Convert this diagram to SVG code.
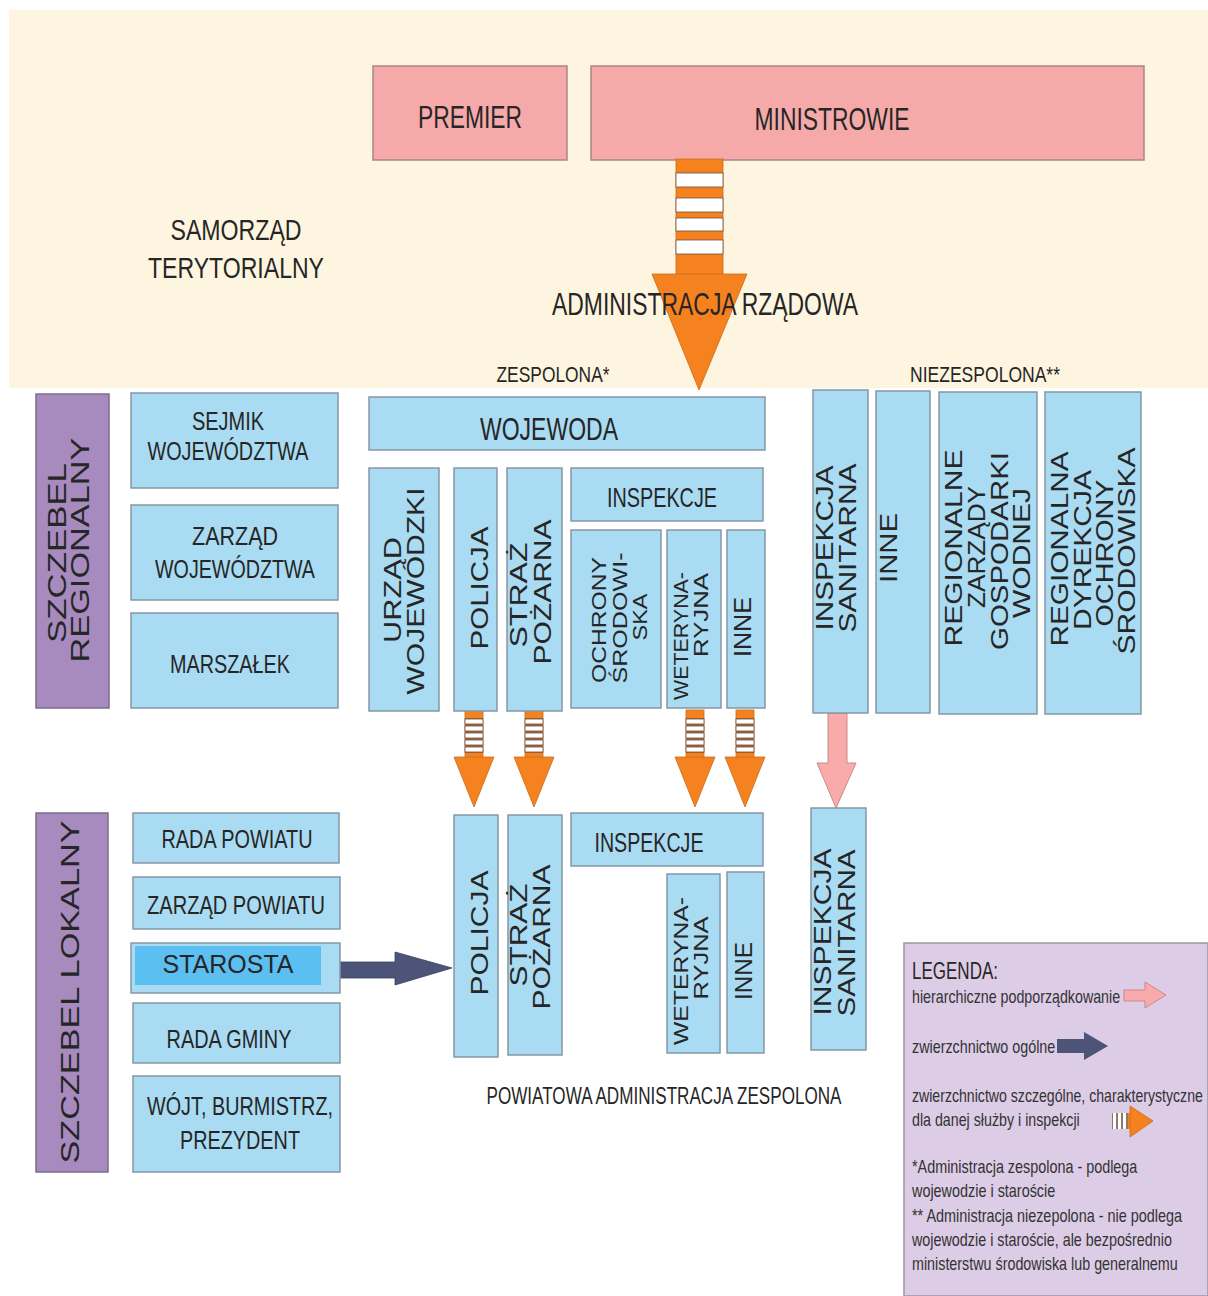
<svg xmlns="http://www.w3.org/2000/svg" width="1208" height="1296" viewBox="0 0 1208 1296">
<style>
.t{font-family:"Liberation Sans",Arial,"DejaVu Sans",sans-serif;fill:#262626}
.c{text-anchor:middle}
.pink{fill:#F6A9A9;stroke:#A98585;stroke-width:1.5}
.blue{fill:#A9DBF2;stroke:#8598A6;stroke-width:1.5}
.purple{fill:#A78BBE;stroke:#7C6C8E;stroke-width:1.5}
.r{font-size:23px}
.rs{font-size:21px}
.h{font-size:25px}
.lg{font-size:18px;fill:#333}
.orange{fill:#F5821F;stroke:#C9691B;stroke-width:0.8}
.stripe{fill:#FFFFFF;stroke:#6B5040;stroke-width:0.8}
</style>
<defs>
<g id="sa">
<rect x="-9" y="0" width="18" height="49" class="orange"/>
<rect x="-9" y="8" width="18" height="35" fill="#A8683A"/>
<rect x="-9" y="9" width="18" height="5" class="stripe"/>
<rect x="-9" y="16" width="18" height="5" class="stripe"/>
<rect x="-9" y="23" width="18" height="5" class="stripe"/>
<rect x="-9" y="30" width="18" height="5" class="stripe"/>
<rect x="-9" y="37" width="18" height="5" class="stripe"/>
<polygon points="-20,47 20,47 0,97" class="orange"/>
</g>
</defs>

<rect x="9" y="10" width="1199" height="378" fill="#FDF5DF"/>

<g id="premier"><rect x="373" y="66" width="194" height="94" class="pink"/><text class="t c" x="470" y="128" font-size="31" textLength="104" lengthAdjust="spacingAndGlyphs">PREMIER</text></g>
<g id="ministrowie"><rect x="591" y="66" width="553" height="94" class="pink"/><text class="t c" x="832" y="130" font-size="31" textLength="155" lengthAdjust="spacingAndGlyphs">MINISTROWIE</text></g>
<g id="samorzad"><text class="t c" x="236" y="240" font-size="29" textLength="131" lengthAdjust="spacingAndGlyphs">SAMORZĄD</text><text class="t c" x="236" y="278" font-size="29" textLength="176" lengthAdjust="spacingAndGlyphs">TERYTORIALNY</text></g>

<g id="connectors">
<g id="arrow-rzad">
<rect x="676" y="159" width="47" height="116" class="orange"/>
<rect x="676" y="173" width="47" height="14" class="stripe"/>
<rect x="676" y="198" width="47" height="14" class="stripe"/>
<rect x="676" y="218" width="47" height="13" class="stripe"/>
<rect x="676" y="240" width="47" height="14" class="stripe"/>
<polygon points="652,274 747,274 699,390" class="orange"/>
</g>
<use href="#sa" transform="translate(474,710)"/>
<use href="#sa" transform="translate(534,710)"/>
<use href="#sa" transform="translate(695,710)"/>
<use href="#sa" transform="translate(745,710)"/>
<polygon points="828,713 847,713 847,763 856,763 836,808 817,763 828,763" fill="#F9AAAA" stroke="#C98A8A" stroke-width="1"/>
<polygon points="338,962 395,962 395,952 452,968 395,985 395,978 338,978" fill="#4C5478" stroke="#3A4060" stroke-width="0.8"/>
</g>

<text class="t c" x="705" y="315" font-size="32" textLength="306" lengthAdjust="spacingAndGlyphs">ADMINISTRACJA RZĄDOWA</text>
<text class="t c" x="553" y="382" font-size="22" textLength="113" lengthAdjust="spacingAndGlyphs">ZESPOLONA*</text>
<text class="t c" x="985" y="382" font-size="22" textLength="150" lengthAdjust="spacingAndGlyphs">NIEZESPOLONA**</text>

<g id="szczebel-regionalny"><rect x="36" y="394" width="73" height="314" class="purple"/>
<text class="t c" font-size="25" transform="translate(66,553) rotate(-90)" textLength="180" lengthAdjust="spacingAndGlyphs">SZCZEBEL</text>
<text class="t c" font-size="25" transform="translate(89,550) rotate(-90)" textLength="225" lengthAdjust="spacingAndGlyphs">REGIONALNY</text></g>
<g id="szczebel-lokalny"><rect x="36" y="813" width="72" height="359" class="purple"/>
<text class="t c" font-size="25" transform="translate(79,992) rotate(-90)" textLength="343" lengthAdjust="spacingAndGlyphs">SZCZEBEL LOKALNY</text></g>

<g id="sejmik"><rect x="131" y="393" width="207" height="95" class="blue"/><text class="t c h" x="228" y="430" textLength="72" lengthAdjust="spacingAndGlyphs">SEJMIK</text><text class="t c h" x="228" y="460" textLength="161" lengthAdjust="spacingAndGlyphs">WOJEWÓDZTWA</text></g>
<g id="zarzad-woj"><rect x="131" y="505" width="207" height="95" class="blue"/><text class="t c h" x="235" y="545" textLength="86" lengthAdjust="spacingAndGlyphs">ZARZĄD</text><text class="t c h" x="235" y="578" textLength="160" lengthAdjust="spacingAndGlyphs">WOJEWÓDZTWA</text></g>
<g id="marszalek"><rect x="131" y="613" width="207" height="95" class="blue"/><text class="t c h" x="230" y="673" textLength="120" lengthAdjust="spacingAndGlyphs">MARSZAŁEK</text></g>

<g id="rada-powiatu"><rect x="133" y="813" width="206" height="50" class="blue"/><text class="t c h" x="237" y="848" textLength="151" lengthAdjust="spacingAndGlyphs">RADA POWIATU</text></g>
<g id="zarzad-powiatu"><rect x="133" y="877" width="207" height="52" class="blue"/><text class="t c h" x="236" y="914" textLength="178" lengthAdjust="spacingAndGlyphs">ZARZĄD POWIATU</text></g>
<g id="starosta"><rect x="131" y="943" width="209" height="50" class="blue"/><rect x="135" y="946" width="186" height="39" fill="#5CBFF2"/><text class="t c" x="228" y="973" font-size="25" fill="#111">STAROSTA</text></g>
<g id="rada-gminy"><rect x="133" y="1003" width="207" height="60" class="blue"/><text class="t c h" x="229" y="1048" textLength="125" lengthAdjust="spacingAndGlyphs">RADA GMINY</text></g>
<g id="wojt"><rect x="133" y="1076" width="207" height="96" class="blue"/><text class="t c h" x="240" y="1115" textLength="186" lengthAdjust="spacingAndGlyphs">WÓJT, BURMISTRZ,</text><text class="t c h" x="240" y="1149" textLength="120" lengthAdjust="spacingAndGlyphs">PREZYDENT</text></g>

<g id="wojewoda"><rect x="369" y="397" width="396" height="53" class="blue"/><text class="t c" x="549" y="440" font-size="31" textLength="138" lengthAdjust="spacingAndGlyphs">WOJEWODA</text></g>
<g id="urzad-woj"><rect x="369" y="468" width="70" height="243" class="blue"/>
<text class="t c r" transform="translate(401,590) rotate(-90)" textLength="106" lengthAdjust="spacingAndGlyphs">URZĄD</text>
<text class="t c r" transform="translate(424,591) rotate(-90)" textLength="207" lengthAdjust="spacingAndGlyphs">WOJEWÓDZKI</text></g>
<g id="policja-woj"><rect x="454" y="468" width="43" height="243" class="blue"/>
<text class="t c r" transform="translate(488,588) rotate(-90)" textLength="123" lengthAdjust="spacingAndGlyphs">POLICJA</text></g>
<g id="straz-woj"><rect x="507" y="468" width="55" height="243" class="blue"/>
<text class="t c r" transform="translate(527,595) rotate(-90)" textLength="105" lengthAdjust="spacingAndGlyphs">STRAŻ</text>
<text class="t c r" transform="translate(551,592) rotate(-90)" textLength="145" lengthAdjust="spacingAndGlyphs">POŻARNA</text></g>
<g id="inspekcje-woj"><rect x="571" y="468" width="192" height="53" class="blue"/><text class="t c" x="662" y="507" font-size="28" textLength="110" lengthAdjust="spacingAndGlyphs">INSPEKCJE</text></g>
<g id="ochrona-woj"><rect x="571" y="530" width="90" height="178" class="blue"/>
<text class="t c rs" transform="translate(606,620) rotate(-90)" textLength="126" lengthAdjust="spacingAndGlyphs">OCHRONY</text>
<text class="t c rs" transform="translate(627,618) rotate(-90)" textLength="131" lengthAdjust="spacingAndGlyphs">ŚRODOWI-</text>
<text class="t c rs" transform="translate(647,617) rotate(-90)" textLength="47" lengthAdjust="spacingAndGlyphs">SKA</text></g>
<g id="wet-woj"><rect x="667" y="530" width="54" height="178" class="blue"/>
<text class="t c rs" transform="translate(688,636) rotate(-90)" textLength="128" lengthAdjust="spacingAndGlyphs">WETERYNA-</text>
<text class="t c rs" transform="translate(708,615) rotate(-90)" textLength="84" lengthAdjust="spacingAndGlyphs">RYJNA</text></g>
<g id="inne-woj"><rect x="727" y="530" width="38" height="178" class="blue"/>
<text class="t c r" transform="translate(751,627) rotate(-90)" textLength="60" lengthAdjust="spacingAndGlyphs">INNE</text></g>

<g id="sanepid-woj"><rect x="813" y="390" width="55" height="323" class="blue"/>
<text class="t c r" transform="translate(833,548) rotate(-90)" textLength="165" lengthAdjust="spacingAndGlyphs">INSPEKCJA</text>
<text class="t c r" transform="translate(856,548) rotate(-90)" textLength="169" lengthAdjust="spacingAndGlyphs">SANITARNA</text></g>
<g id="inne-niezesp"><rect x="876" y="391" width="54" height="322" class="blue"/>
<text class="t c r" transform="translate(897,548) rotate(-90)" textLength="70" lengthAdjust="spacingAndGlyphs">INNE</text></g>
<g id="rzgw"><rect x="939" y="392" width="98" height="322" class="blue"/>
<text class="t c r" transform="translate(962,548) rotate(-90)" textLength="197" lengthAdjust="spacingAndGlyphs">REGIONALNE</text>
<text class="t c r" transform="translate(985,547) rotate(-90)" textLength="122" lengthAdjust="spacingAndGlyphs">ZARZĄDY</text>
<text class="t c r" transform="translate(1008,551) rotate(-90)" textLength="198" lengthAdjust="spacingAndGlyphs">GOSPODARKI</text>
<text class="t c r" transform="translate(1030,553) rotate(-90)" textLength="130" lengthAdjust="spacingAndGlyphs">WODNEJ</text></g>
<g id="rdos"><rect x="1045" y="392" width="96" height="322" class="blue"/>
<text class="t c r" transform="translate(1068,549) rotate(-90)" textLength="195" lengthAdjust="spacingAndGlyphs">REGIONALNA</text>
<text class="t c r" transform="translate(1091,550) rotate(-90)" textLength="160" lengthAdjust="spacingAndGlyphs">DYREKCJA</text>
<text class="t c r" transform="translate(1113,553) rotate(-90)" textLength="147" lengthAdjust="spacingAndGlyphs">OCHRONY</text>
<text class="t c r" transform="translate(1135,551) rotate(-90)" textLength="207" lengthAdjust="spacingAndGlyphs">ŚRODOWISKA</text></g>

<g id="policja-pow"><rect x="454" y="815" width="44" height="242" class="blue"/>
<text class="t c r" transform="translate(488,933) rotate(-90)" textLength="125" lengthAdjust="spacingAndGlyphs">POLICJA</text></g>
<g id="straz-pow"><rect x="508" y="815" width="54" height="240" class="blue"/>
<text class="t c r" transform="translate(527,935) rotate(-90)" textLength="103" lengthAdjust="spacingAndGlyphs">STRAŻ</text>
<text class="t c r" transform="translate(550,937) rotate(-90)" textLength="145" lengthAdjust="spacingAndGlyphs">POŻARNA</text></g>
<g id="inspekcje-pow"><rect x="571" y="813" width="192" height="53" class="blue"/><text class="t c" x="649" y="852" font-size="28" textLength="109" lengthAdjust="spacingAndGlyphs">INSPEKCJE</text></g>
<g id="wet-pow"><rect x="667" y="874" width="53" height="179" class="blue"/>
<text class="t c rs" transform="translate(688,971) rotate(-90)" textLength="148" lengthAdjust="spacingAndGlyphs">WETERYNA-</text>
<text class="t c rs" transform="translate(708,958) rotate(-90)" textLength="83" lengthAdjust="spacingAndGlyphs">RYJNA</text></g>
<g id="inne-pow"><rect x="727" y="872" width="37" height="181" class="blue"/>
<text class="t c r" transform="translate(752,971) rotate(-90)" textLength="58" lengthAdjust="spacingAndGlyphs">INNE</text></g>
<g id="sanepid-pow"><rect x="811" y="808" width="55" height="242" class="blue"/>
<text class="t c r" transform="translate(831,932) rotate(-90)" textLength="167" lengthAdjust="spacingAndGlyphs">INSPEKCJA</text>
<text class="t c r" transform="translate(855,933) rotate(-90)" textLength="167" lengthAdjust="spacingAndGlyphs">SANITARNA</text></g>
<text class="t c" x="664" y="1104" font-size="23" textLength="355" lengthAdjust="spacingAndGlyphs">POWIATOWA ADMINISTRACJA ZESPOLONA</text>

<g id="legenda">
<rect x="904" y="943" width="304" height="353" fill="#DCCCE6" stroke="#999" stroke-width="1.5"/>
<text class="t" x="912" y="979" font-size="23" textLength="86" lengthAdjust="spacingAndGlyphs">LEGENDA:</text>
<text class="t lg" transform="translate(912,1003) scale(0.72,1)" textLength="289" lengthAdjust="spacingAndGlyphs">hierarchiczne podporządkowanie</text>
<polygon points="1124,990 1145,990 1145,982 1166,995 1145,1008 1145,1001 1124,1001" fill="#F9AAAA" stroke="#C98A8A" stroke-width="1"/>
<text class="t lg" transform="translate(912,1053) scale(0.72,1)" textLength="199" lengthAdjust="spacingAndGlyphs">zwierzchnictwo ogólne</text>
<polygon points="1057,1039 1084,1039 1084,1032 1108,1046 1084,1060 1084,1053 1057,1053" fill="#4C5478"/>
<text class="t lg" transform="translate(912,1102) scale(0.72,1)" textLength="404" lengthAdjust="spacingAndGlyphs">zwierzchnictwo szczególne, charakterystyczne</text>
<text class="t lg" transform="translate(912,1126) scale(0.72,1)" textLength="233" lengthAdjust="spacingAndGlyphs">dla danej służby i inspekcji</text>
<rect x="1112" y="1113" width="20" height="16" fill="#8C7A6A"/>
<rect x="1113" y="1113" width="3" height="16" fill="#fff"/>
<rect x="1118" y="1113" width="3" height="16" fill="#fff"/>
<rect x="1123" y="1113" width="3" height="16" fill="#fff"/>
<rect x="1128" y="1113" width="3" height="16" fill="#F5821F"/>
<polygon points="1130,1106 1153,1121 1130,1137" class="orange"/>
<text class="t lg" transform="translate(912,1173) scale(0.72,1)" textLength="313" lengthAdjust="spacingAndGlyphs">*Administracja zespolona - podlega</text>
<text class="t lg" transform="translate(912,1197) scale(0.72,1)" textLength="199" lengthAdjust="spacingAndGlyphs">wojewodzie i staroście</text>
<text class="t lg" transform="translate(912,1222) scale(0.72,1)" textLength="375" lengthAdjust="spacingAndGlyphs">** Administracja niezepolona - nie podlega</text>
<text class="t lg" transform="translate(912,1246) scale(0.72,1)" textLength="361" lengthAdjust="spacingAndGlyphs">wojewodzie i staroście, ale bezpośrednio</text>
<text class="t lg" transform="translate(912,1270) scale(0.72,1)" textLength="369" lengthAdjust="spacingAndGlyphs">ministerstwu środowiska lub generalnemu</text>
</g>
</svg>
